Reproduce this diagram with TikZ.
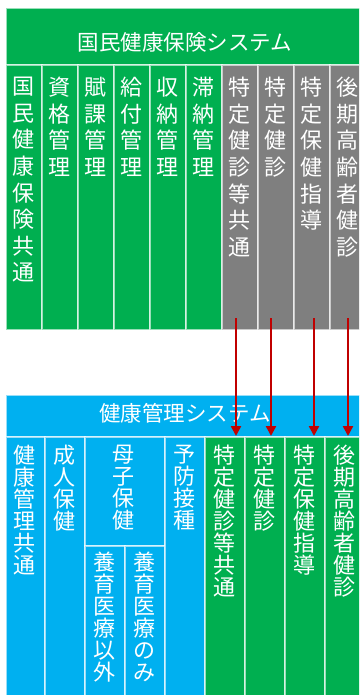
\documentclass[tikz,border=0pt]{standalone}
\usepackage{fontspec}
\setmainfont{Noto Sans CJK JP}
\usetikzlibrary{arrows.meta}
\definecolor{kgreen}{HTML}{00AF50}
\definecolor{kgray}{HTML}{7F7F7F}
\definecolor{kblue}{HTML}{00B0F0}
\definecolor{kred}{HTML}{C00000}
\begin{document}
\begin{tikzpicture}[x=1pt,y=-1pt,
  cell/.style={draw=white, draw opacity=0.6, line width=1.2pt, inner sep=0pt, outer sep=0pt, anchor=north west},
  gcell/.style={cell, fill=kgreen},
  ycell/.style={cell, fill=kgray},
  bcell/.style={cell, fill=kblue},
  ttxt/.style={text=white, inner sep=0pt, anchor=north, align=center, font=\fontsize{22}{26.6}\selectfont},
  btxt/.style={text=white, inner sep=0pt, anchor=north, align=center, font=\fontsize{22}{21.9}\selectfont},
  htxt/.style={text=white, inner sep=0pt, font=\fontsize{21.5}{24}\selectfont},
  arr/.style={kred, line width=2.4pt, -{Triangle[length=10pt,width=10pt]}}
]
\useasboundingbox (0,0) rectangle (359,695);
\clip (0,0) rectangle (359,695);
\fill[white] (0,0) rectangle (359,695);

% ---------- top system ----------
\node[gcell, minimum width=360, minimum height=57] (th) at (6,8) {};
\node[htxt] (thl) at (185,42) {国民健康保険システム};

\node[gcell, minimum width=36, minimum height=265] (t1) at (6,65) {};
\node[gcell, minimum width=36, minimum height=265] (t2) at (42,65) {};
\node[gcell, minimum width=36, minimum height=265] (t3) at (78,65) {};
\node[gcell, minimum width=36, minimum height=265] (t4) at (114,65) {};
\node[gcell, minimum width=36, minimum height=265] (t5) at (150,65) {};
\node[gcell, minimum width=36, minimum height=265] (t6) at (186,65) {};
\node[ycell, minimum width=36, minimum height=265] (t7) at (222,65) {};
\node[ycell, minimum width=36, minimum height=265] (t8) at (258,65) {};
\node[ycell, minimum width=36, minimum height=265] (t9) at (294,65) {};
\node[ycell, minimum width=36, minimum height=265] (t10) at (330,65) {};

\node[ttxt] (t1l) at (23.5,77) {国\\民\\健\\康\\保\\険\\共\\通};
\node[ttxt] (t2l) at (59.5,77) {資\\格\\管\\理};
\node[ttxt] (t3l) at (95.5,77) {賦\\課\\管\\理};
\node[ttxt] (t4l) at (131.5,77) {給\\付\\管\\理};
\node[ttxt] (t5l) at (167.5,77) {収\\納\\管\\理};
\node[ttxt] (t6l) at (203.5,77) {滞\\納\\管\\理};
\node[ttxt] (t7l) at (239.5,77) {特\\定\\健\\診\\等\\共\\通};
\node[ttxt] (t8l) at (275.5,77) {特\\定\\健\\診};
\node[ttxt] (t9l) at (311.5,77) {特\\定\\保\\健\\指\\導};
\node[ttxt] (t10l) at (347.5,77) {後\\期\\高\\齢\\者\\健\\診};

% ---------- bottom system ----------
\node[bcell, minimum width=360, minimum height=42] (bh) at (6,395) {};
\node[htxt] (bhl) at (185,413) {健康管理システム};

\node[bcell, minimum width=39, minimum height=270] (b1) at (6,437) {};
\node[bcell, minimum width=40, minimum height=270] (b2) at (45,437) {};
\node[bcell, minimum width=80, minimum height=109] (b3) at (85,437) {};
\node[bcell, minimum width=40, minimum height=161] (b3a) at (85,546) {};
\node[bcell, minimum width=40, minimum height=161] (b3b) at (125,546) {};
\node[bcell, minimum width=40, minimum height=270] (b4) at (165,437) {};
\node[gcell, minimum width=40, minimum height=270] (b5) at (205,437) {};
\node[gcell, minimum width=40, minimum height=270] (b6) at (245,437) {};
\node[gcell, minimum width=40, minimum height=270] (b7) at (285,437) {};
\node[gcell, minimum width=40, minimum height=270] (b8) at (325,437) {};

\node[btxt] (b1l) at (24.5,445) {健\\康\\管\\理\\共\\通};
\node[btxt] (b2l) at (64.5,445) {成\\人\\保\\健};
\node[btxt] (b3l) at (123,445) {母\\子\\保\\健};
\node[btxt] (b3al) at (104.5,552) {養\\育\\医\\療\\以\\外};
\node[btxt] (b3bl) at (144.5,552) {養\\育\\医\\療\\の\\み};
\node[btxt] (b4l) at (184.5,445) {予\\防\\接\\種};
\node[btxt] (b5l) at (224.5,445) {特\\定\\健\\診\\等\\共\\通};
\node[btxt] (b6l) at (264.5,445) {特\\定\\健\\診};
\node[btxt] (b7l) at (304.5,445) {特\\定\\保\\健\\指\\導};
\node[btxt] (b8l) at (344.5,445) {後\\期\\高\\齢\\者\\健\\診};

% ---------- arrows ----------
\coordinate (a1s) at (236,318); \coordinate (a1e) at (236,436);
\coordinate (a2s) at (271,318); \coordinate (a2e) at (271,436);
\coordinate (a3s) at (314,318); \coordinate (a3e) at (314,436);
\coordinate (a4s) at (348,318); \coordinate (a4e) at (348,436);
\draw[arr] (a1s) -- (a1e);
\draw[arr] (a2s) -- (a2e);
\draw[arr] (a3s) -- (a3e);
\draw[arr] (a4s) -- (a4e);
\end{tikzpicture}
\end{document}
